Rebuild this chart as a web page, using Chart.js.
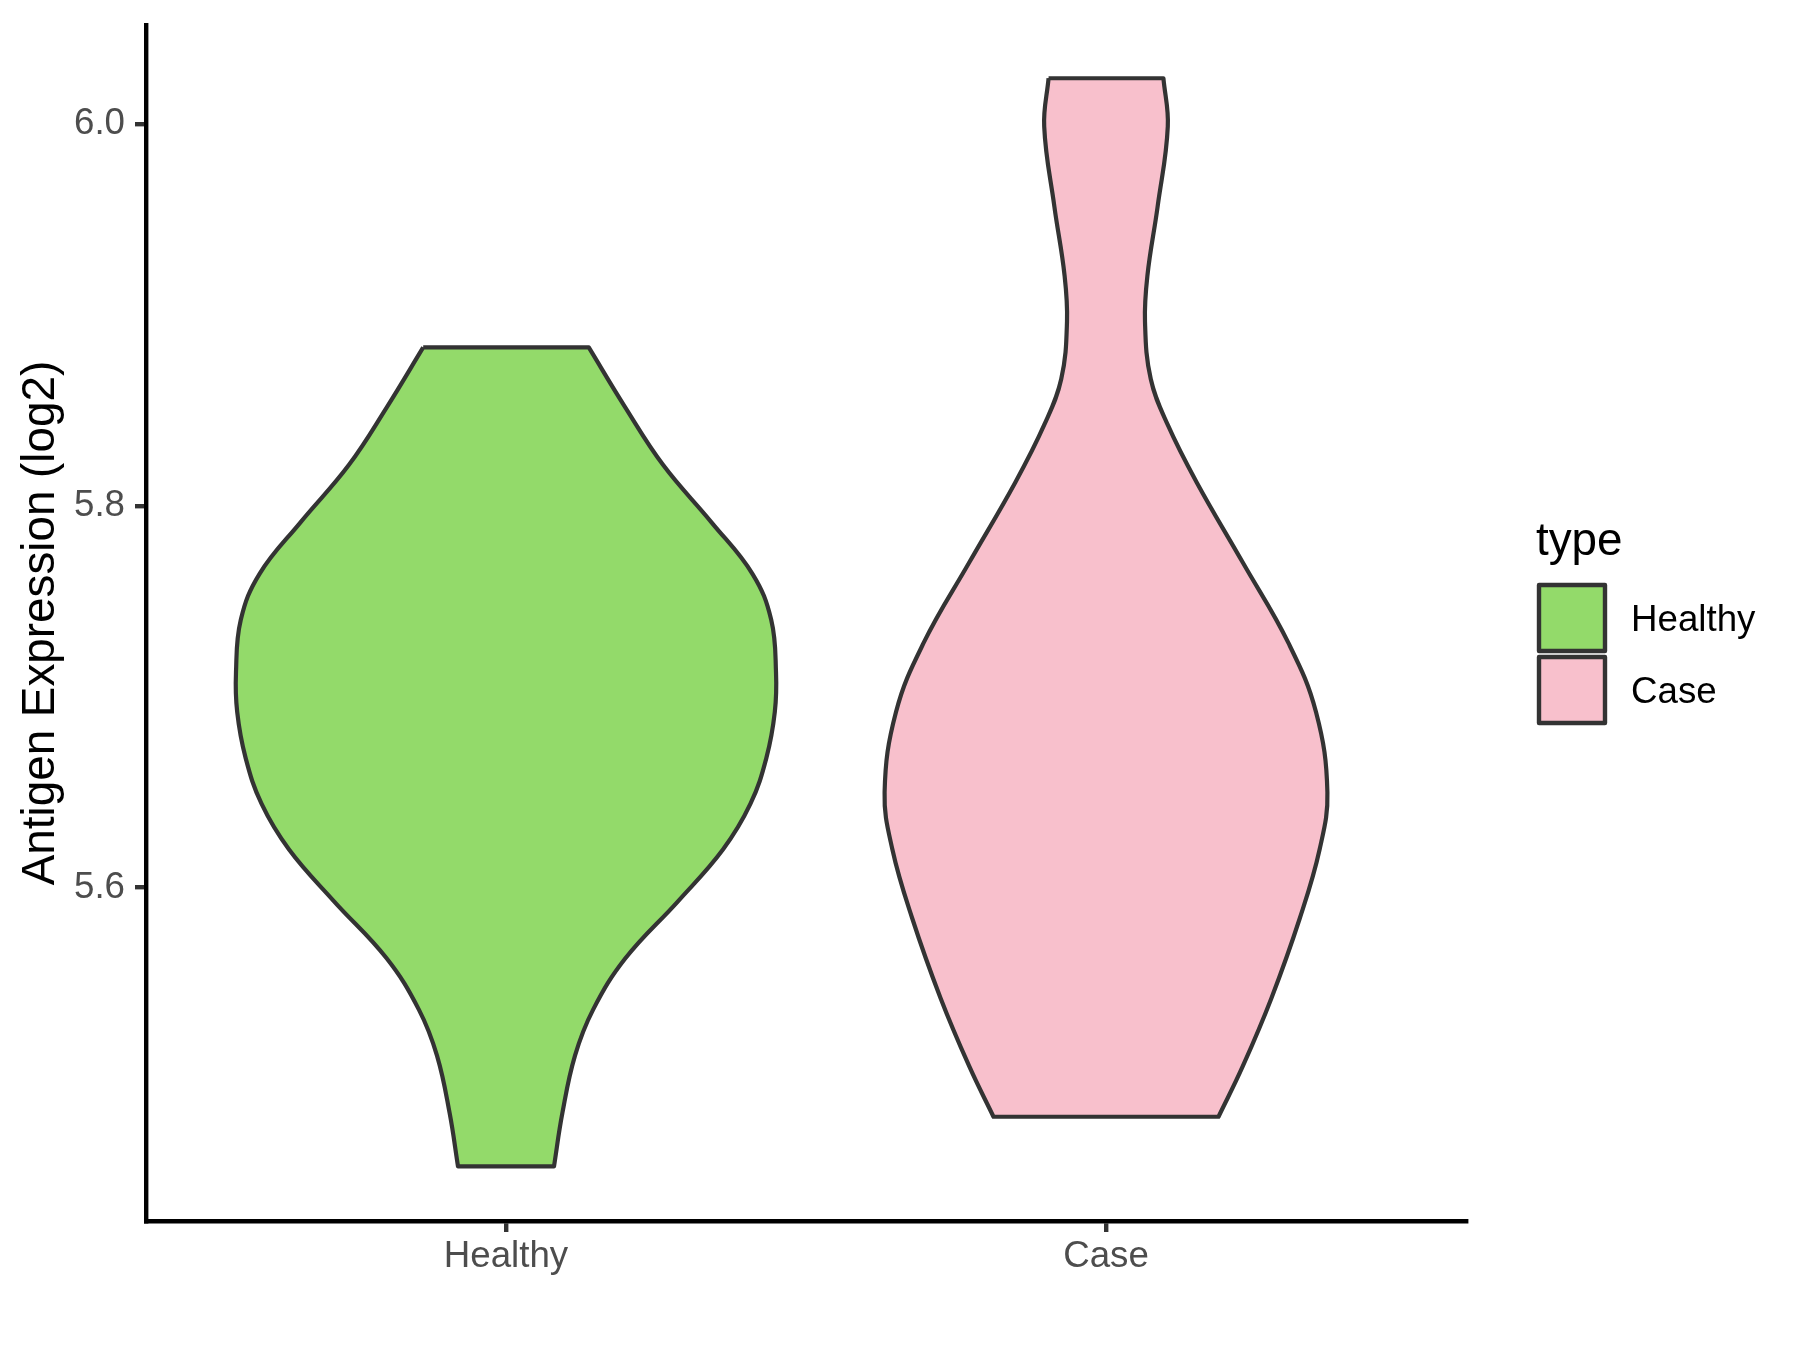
<!DOCTYPE html>
<html>
<head>
<meta charset="utf-8">
<script src="https://cdn.jsdelivr.net/npm/chart.js"></script>
<style>
html, body { margin: 0; padding: 0; background: #ffffff; }
canvas { display: block; }
</style>
</head>
<body>
<canvas id="chart" width="1800" height="1350"></canvas>
<script>
// ---- data ----
const categories = ['Healthy', 'Case'];
const fillColors = ['#93DA6A', '#F8C0CC'];
const yTicks = [5.6, 5.8, 6.0];
const legendTitle = 'type';
const yTitle = 'Antigen Expression (log2)';

// violin outline: expression level (top -> bottom) and half width (category units)
const healthyLevels    = [5.883, 5.8515, 5.8214, 5.7914, 5.7643, 5.7403, 5.713, 5.692, 5.668, 5.644, 5.620, 5.593, 5.563, 5.536, 5.512, 5.482, 5.454];
const healthyHalfWidth = [0.138, 0.199, 0.262, 0.3425, 0.411, 0.442, 0.450, 0.448, 0.434, 0.4075, 0.3616, 0.287, 0.199, 0.145, 0.115, 0.094, 0.080];
const caseLevels       = [6.024, 5.9988, 5.9567, 5.9206, 5.8965, 5.8665, 5.8424, 5.8124, 5.7703, 5.7282, 5.692, 5.650, 5.620, 5.584, 5.542, 5.5065, 5.480];
const caseHalfWidth    = [0.0957, 0.103, 0.086, 0.069, 0.065, 0.0746, 0.103, 0.151, 0.228, 0.304, 0.350, 0.369, 0.356, 0.323, 0.2755, 0.228, 0.1875];

const yMin = 5.4254, yMax = 6.0519;
const xMin = 0.4, xMax = 2.6;

// ---- build closed violin outlines (corners doubled to keep flat ends straight) ----
function outline(center, levels, hw) {
  const n = levels.length;
  const left = levels.map((y, i) => ({ x: center - hw[i], y: y }));
  const right = levels.map((y, i) => ({ x: center + hw[i], y: y })).reverse();
  const pts = [left[0]];
  left.forEach(p => pts.push(p));
  pts.push(left[n - 1]);
  pts.push(right[0]);
  right.forEach(p => pts.push(p));
  pts.push(right[n - 1]);
  pts.push(left[0]);
  pts.push(left[0]);
  return pts;
}
const levelSets = [healthyLevels, caseLevels];
const widthSets = [healthyHalfWidth, caseHalfWidth];

const FONT = "'Liberation Sans', Arial, Helvetica, sans-serif";

const legendPlugin = {
  id: 'ggLegend',
  afterDraw(chart) {
    const ctx = chart.ctx;
    ctx.save();
    ctx.fillStyle = '#000000';
    ctx.font = '45.8px ' + FONT;
    ctx.textAlign = 'left';
    ctx.textBaseline = 'alphabetic';
    ctx.fillText(legendTitle, 1536, 555);
    const keyTop = [585, 657];
    categories.forEach((name, i) => {
      ctx.fillStyle = fillColors[i];
      ctx.strokeStyle = '#333333';
      ctx.lineWidth = 4.4;
      ctx.lineJoin = 'round';
      ctx.fillRect(1539, keyTop[i], 66, 66);
      ctx.strokeRect(1539, keyTop[i], 66, 66);
      ctx.fillStyle = '#000000';
      ctx.font = '36.7px ' + FONT;
      ctx.textBaseline = 'middle';
      ctx.fillText(name, 1631, keyTop[i] + 36);
    });
    ctx.restore();
  }
};

function noPad(s) {
  s.paddingTop = 0; s.paddingBottom = 0; s.paddingLeft = 0; s.paddingRight = 0;
}

new Chart(document.getElementById('chart'), {
  type: 'scatter',
  data: {
    datasets: categories.map((name, i) => ({
      label: name,
      data: outline(i + 1, levelSets[i], widthSets[i]),
      showLine: true,
      fill: 'shape',
      backgroundColor: fillColors[i],
      borderColor: '#333333',
      borderWidth: 4.2,
      borderJoinStyle: 'round',
      pointRadius: 0,
      pointHoverRadius: 0,
      tension: 0.4
    }))
  },
  options: {
    responsive: false,
    animation: false,
    events: [],
    layout: { padding: { top: 25, right: 334, left: 0, bottom: 0 } },
    plugins: {
      legend: { display: false },
      tooltip: { enabled: false },
      title: { display: false }
    },
    scales: {
      x: {
        type: 'linear',
        min: xMin,
        max: xMax,
        afterBuildTicks: s => { s.ticks = categories.map((c, i) => ({ value: i + 1 })); },
        afterFit: s => { s.height = 129; noPad(s); },
        ticks: {
          callback: v => categories[Math.round(v) - 1],
          font: { family: FONT, size: 36.7 },
          color: '#4D4D4D',
          padding: 3,
          autoSkip: false,
          maxRotation: 0
        },
        grid: { drawOnChartArea: false, drawTicks: true, tickLength: 11, tickWidth: 4.4, tickColor: '#333333', lineWidth: 4.4 },
        border: { display: true, color: '#000000', width: 4.4 }
      },
      y: {
        type: 'linear',
        min: yMin,
        max: yMax,
        afterBuildTicks: s => { s.ticks = yTicks.map(v => ({ value: v })); },
        afterFit: s => { s.width = 146; noPad(s); },
        ticks: {
          callback: v => Number(v).toFixed(1),
          font: { family: FONT, size: 36.7 },
          color: '#4D4D4D',
          padding: 10
        },
        title: {
          display: true,
          text: yTitle,
          color: '#000000',
          font: { family: FONT, size: 45.8 },
          padding: { top: 13.5, bottom: 0 }
        },
        grid: { drawOnChartArea: false, drawTicks: true, tickLength: 11, tickWidth: 4.4, tickColor: '#333333', lineWidth: 4.4 },
        border: { display: true, color: '#000000', width: 4.4 }
      }
    }
  },
  plugins: [legendPlugin]
});
</script>
</body>
</html>
